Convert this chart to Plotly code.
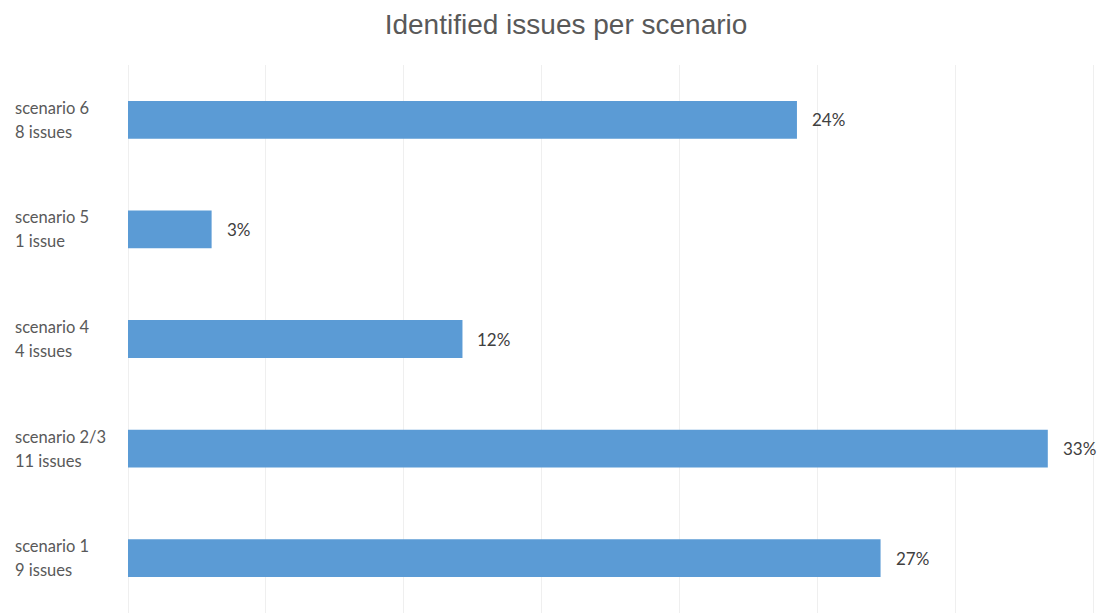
import plotly.graph_objects as go

# Issue counts per scenario (bottom to top)
scenarios = ["scenario 1", "scenario 2/3", "scenario 4", "scenario 5", "scenario 6"]
issues = [9, 11, 4, 1, 8]

total = sum(issues)
shares = [n / total * 100 for n in issues]
issue_labels = [f"{n} issue" if n == 1 else f"{n} issues" for n in issues]
value_labels = [f"{s:.0f}%" for s in shares]

BAR_COLOR = "#5B9BD5"
TEXT_GRAY = "#595959"
GRID = "#EFEFEF"

fig = go.Figure(
    go.Bar(
        x=shares,
        y=scenarios,
        orientation="h",
        marker=dict(color=BAR_COLOR, line=dict(width=0)),
        width=0.345,
        hoverinfo="skip",
    )
)

PLOT_L, PLOT_R = 128, 1
WIDTH, HEIGHT = 1097, 613
plot_w = WIDTH - PLOT_L - PLOT_R
label_x = -(PLOT_L - 13) / plot_w

annotations = []
# Two-line category labels, left aligned
for cat, lab in zip(scenarios, issue_labels):
    for text, shift in ((cat, 12), (lab, -12)):
        annotations.append(dict(
            x=label_x, xref="paper", xanchor="left",
            y=cat, yref="y", yanchor="middle", yshift=shift,
            text=text, align="left", showarrow=False,
            font=dict(family="Lato", size=16.5, color=TEXT_GRAY),
        ))
# Percentage labels next to each bar
for cat, s, lab in zip(scenarios, shares, value_labels):
    annotations.append(dict(
        x=s, xref="x", xanchor="left", xshift=13,
        y=cat, yref="y", yanchor="middle",
        text=lab, showarrow=False,
        font=dict(family="Lato", size=17, color="#404040"),
    ))

fig.update_layout(
    width=WIDTH, height=HEIGHT,
    margin=dict(l=PLOT_L, r=PLOT_R, t=65, b=0),
    paper_bgcolor="white", plot_bgcolor="white",
    title=dict(
        text="Identified issues per scenario",
        x=566 / WIDTH, xanchor="center", xref="container",
        y=1 - 24 / HEIGHT, yanchor="middle", yref="container",
        font=dict(family="Liberation Sans", size=28, color=TEXT_GRAY),
    ),
    xaxis=dict(
        range=[0, 35.08], dtick=5, tick0=0, showgrid=True, gridcolor=GRID, gridwidth=1,
        showticklabels=False, zeroline=True, zerolinecolor=GRID, zerolinewidth=1,
        showline=False, ticks="",
    ),
    yaxis=dict(
        showticklabels=False, showgrid=False, zeroline=False, ticks="",
        range=[-0.5, 4.5],
    ),
    annotations=annotations,
    showlegend=False,
)

fig.write_html("out.html")
